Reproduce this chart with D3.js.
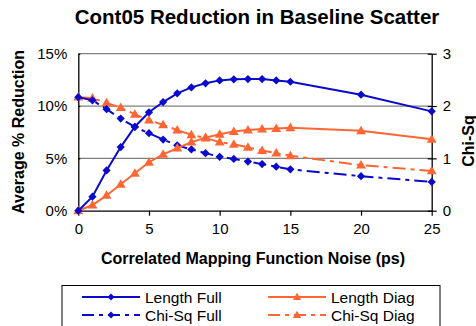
<!DOCTYPE html>
<html><head><meta charset="utf-8">
<script src="https://cdn.jsdelivr.net/npm/d3@7"></script>
<style>body{margin:0;background:#fff}svg{display:block;font-family:Arial,"Liberation Sans",sans-serif}</style>
</head><body><svg id="c" width="476" height="326"></svg>
<script>
const noise = [0,1,2,3,4,5,6,7,8,9,10,11,12,13,14,15,20,25];
const lengthFull = [0,1.34,3.85,6.08,8.02,9.40,10.38,11.21,11.78,12.17,12.45,12.55,12.58,12.58,12.45,12.32,11.08,9.49];
const lengthDiag = [0,0.54,1.46,2.52,3.57,4.63,5.38,5.98,6.55,6.98,7.30,7.57,7.70,7.80,7.85,7.93,7.64,6.82];
const chiFull = [2.17,2.11,1.94,1.76,1.60,1.48,1.36,1.25,1.17,1.10,1.03,0.99,0.94,0.89,0.84,0.79,0.66,0.55];
const chiDiag = [2.17,2.15,2.06,1.97,1.84,1.73,1.64,1.54,1.45,1.39,1.31,1.27,1.21,1.15,1.10,1.05,0.87,0.76];
const xTicks = [0,5,10,15,20,25];
const yTicks = [0,5,10,15];
const y2Ticks = [0,1,2,3];
const seriesNames = ["Length Full","Length Diag","Chi-Sq Full","Chi-Sq Diag"];

const svg = d3.select("#c");
const L=78.3,R=431.7,T=53.7,B=210.7;
const x = d3.scaleLinear().domain([0,25]).range([L,R]);
const y = d3.scaleLinear().domain([0,15]).range([B,T]);
const y2 = d3.scaleLinear().domain([0,3]).range([B,T]);
const BLUE="#0A0ACC", ORANGE="#FF6633";

// gridlines
svg.append("g").selectAll("line").data(yTicks.filter(d=>d>0)).join("line")
 .attr("x1",L).attr("x2",R).attr("y1",d=>y(d)).attr("y2",d=>y(d))
 .attr("stroke","#808080").attr("stroke-width",1.3);

// axes
const ax = svg.append("g").attr("transform",`translate(0,${B})`)
 .call(d3.axisBottom(x).tickValues(xTicks).tickSize(5).tickSizeOuter(0));
const ay = svg.append("g").attr("transform",`translate(${L},0)`)
 .call(d3.axisLeft(y).tickValues(yTicks).tickFormat(d=>d+"%").tickSize(5).tickSizeOuter(0));
const ay2 = svg.append("g").attr("transform",`translate(${R},0)`)
 .call(d3.axisRight(y2).tickValues(y2Ticks).tickFormat(d3.format("d")).tickSize(5).tickSizeOuter(0));
[ax,ay,ay2].forEach(g=>{
 g.select(".domain").attr("stroke","#000").attr("stroke-width",1.3);
 g.selectAll(".tick line").attr("stroke","#000").attr("stroke-width",1.2);
 g.selectAll(".tick text").attr("font-size",15).attr("fill","#000").attr("font-family","Arial, Liberation Sans, sans-serif");
});
ax.selectAll(".tick text").attr("dy","0.95em").attr("y",9);
ay.selectAll(".tick text").attr("x",-11);
ay2.selectAll(".tick text").attr("x",11);
ay2.selectAll(".tick line").attr("x1",-4);
ay.selectAll(".tick line").attr("x2",2);

// titles
svg.append("text").attr("x",257).attr("y",24).attr("text-anchor","middle")
 .attr("font-size",20.5).attr("font-weight","bold").text("Cont05 Reduction in Baseline Scatter");
svg.append("text").attr("transform","translate(24,132) rotate(-90)").attr("text-anchor","middle")
 .attr("font-size",16).attr("font-weight","bold").text("Average % Reduction");
svg.append("text").attr("transform","translate(474,141) rotate(-90)").attr("text-anchor","middle")
 .attr("font-size",16).attr("font-weight","bold").text("Chi-Sq");
svg.append("text").attr("x",253).attr("y",264).attr("text-anchor","middle")
 .attr("font-size",16).attr("font-weight","bold").text("Correlated Mapping Function Noise (ps)");

const DASH="13,5,4,5";
const series = [
 {name:seriesNames[0], vals:lengthFull, sc:y, color:BLUE, dash:null, sym:"d"},
 {name:seriesNames[1], vals:lengthDiag, sc:y, color:ORANGE, dash:null, sym:"t"},
 {name:seriesNames[2], vals:chiFull, sc:y2, color:BLUE, dash:DASH, sym:"d"},
 {name:seriesNames[3], vals:chiDiag, sc:y2, color:ORANGE, dash:DASH, sym:"t"},
];
const markD = (sym,big)=> sym==="d" ? d3.symbol(d3.symbolSquare, big?34:24)() : d3.symbol(d3.symbolTriangle, big?42:30)();
const markT = (sym)=> sym==="d" ? " rotate(45)" : " translate(0,0.6)";
const drawOrder=[3,2,1,0];
drawOrder.forEach(i=>{
 const s=series[i];
 const pts = noise.map((n,j)=>[n,s.vals[j]]);
 const line = d3.line().x(d=>x(d[0])).y(d=>s.sc(d[1]));
 svg.append("path").attr("d",line(pts)).attr("fill","none").attr("stroke",s.color)
  .attr("stroke-width",2).attr("stroke-dasharray",s.dash);
 svg.append("g").selectAll("path").data(pts).join("path")
  .attr("transform",d=>`translate(${x(d[0])},${s.sc(d[1])})`+markT(s.sym))
  .attr("d",markD(s.sym,true)).attr("fill",s.color);
});

// legend
const lg = svg.append("g");
lg.append("rect").attr("x",62).attr("y",285.5).attr("width",378).attr("height",45)
 .attr("fill","#fff").attr("stroke","#000").attr("stroke-width",1);
const pos=[[82,297],[268,297],[82,315],[268,315]];
series.forEach((s,i)=>{
 const [px,py]=pos[i];
 lg.append("line").attr("x1",px).attr("x2",px+58).attr("y1",py).attr("y2",py)
  .attr("stroke",s.color).attr("stroke-width",2).attr("stroke-dasharray",s.dash?"12,5,4,5":null);
 lg.append("path").attr("transform",`translate(${px+29},${py})`+markT(s.sym))
  .attr("d",markD(s.sym,false)).attr("fill",s.color);
 lg.append("text").attr("x",px+63).attr("y",py+5.5).attr("font-size",15.5).text(s.name);
});
</script></body></html>
